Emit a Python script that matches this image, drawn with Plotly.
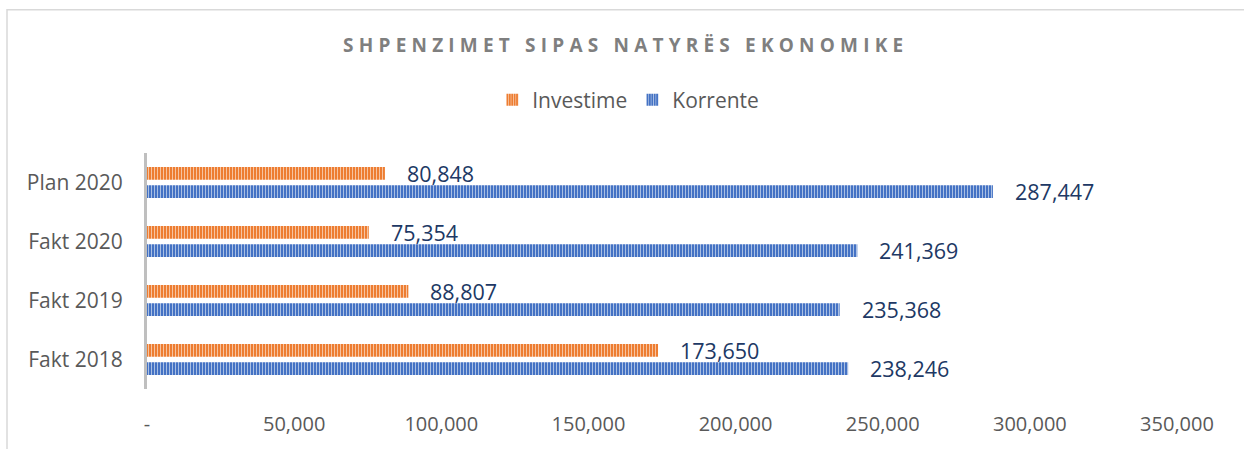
import plotly.graph_objects as go

categories = ["Plan 2020", "Fakt 2020", "Fakt 2019", "Fakt 2018"]
investime = [80848, 75354, 88807, 173650]
korrente = [287447, 241369, 235368, 238246]
tick_vals = [0, 50000, 100000, 150000, 200000, 250000, 300000, 350000]
tick_text = ["-", "50,000", "100,000", "150,000", "200,000", "250,000", "300,000", "350,000"]

ORANGE = "#ED7D31"
BLUE = "#4472C4"
FONT = "Open Sans"

fig = go.Figure()
fig.add_trace(go.Bar(
    y=categories, x=investime, name="Investime", orientation="h",
    marker=dict(color=ORANGE, line=dict(width=0),
                pattern=dict(shape="|", size=3, solidity=0.3, fgcolor="#F8CBAD",
                             bgcolor=ORANGE, fillmode="replace")),
    legendrank=1,
))
fig.add_trace(go.Bar(
    y=categories, x=korrente, name="Korrente", orientation="h",
    marker=dict(color=BLUE, line=dict(width=0),
                pattern=dict(shape="|", size=3, solidity=0.3, fgcolor="#B4C7E7",
                             bgcolor=BLUE, fillmode="replace")),
    legendrank=2,
))

annotations = []
for cat, v in zip(categories, investime):
    annotations.append(dict(x=v, y=cat, xref="x", yref="y", text=f"{v:,}", showarrow=False,
                            xanchor="left", yanchor="middle", xshift=20, yshift=9,
                            font=dict(family=FONT, size=21.5, color="#203864")))
for cat, v in zip(categories, korrente):
    annotations.append(dict(x=v, y=cat, xref="x", yref="y", text=f"{v:,}", showarrow=False,
                            xanchor="left", yanchor="middle", xshift=20, yshift=-9,
                            font=dict(family=FONT, size=21.5, color="#203864")))

fig.update_layout(
    width=1244, height=449,
    margin=dict(l=147, r=67, t=153, b=58),
    paper_bgcolor="white", plot_bgcolor="white",
    barmode="group", bargap=0.378, bargroupgap=0.3,
    title=dict(text="<b>SHPENZIMET SIPAS NATYRËS EKONOMIKE</b>", x=0.503, xref="container",
               xanchor="center", y=1 - 45 / 449, yref="container", yanchor="middle",
               font=dict(family=FONT, size=19, color="#7F7F7F")),
    legend=dict(orientation="h", xref="container", yref="container", x=0.505, y=1 - 100 / 449,
                xanchor="center", yanchor="middle",
                font=dict(family=FONT, size=21, color="#595959"), itemwidth=30),
    xaxis=dict(range=[0, 350000], tickvals=tick_vals, ticktext=tick_text, showgrid=False,
               zeroline=False, showline=False, ticks="", ticklabelstandoff=21,
               tickfont=dict(family=FONT, size=20, color="#595959"), fixedrange=True),
    yaxis=dict(autorange="reversed", showgrid=False, zeroline=False, showline=True,
               linecolor="#BFBFBF", linewidth=3, ticks="", ticklabelstandoff=17,
               tickfont=dict(family=FONT, size=21, color="#595959")),
    annotations=annotations,
    shapes=[dict(type="rect", xref="paper", yref="paper",
                 x0=(7 - 147) / 1030, x1=(1260 - 147) / 1030,
                 y0=-(470 - 391) / 238, y1=1 + (153 - 8.5) / 238,
                 line=dict(color="#D9D9D9", width=1.5), fillcolor="rgba(0,0,0,0)", layer="below")],
    showlegend=True,
)

post = """
var t = document.querySelectorAll('.gtitle');
t.forEach(function(e){ e.style.letterSpacing = '5.2px'; });
"""
fig.write_html("out.html", post_script=post)
